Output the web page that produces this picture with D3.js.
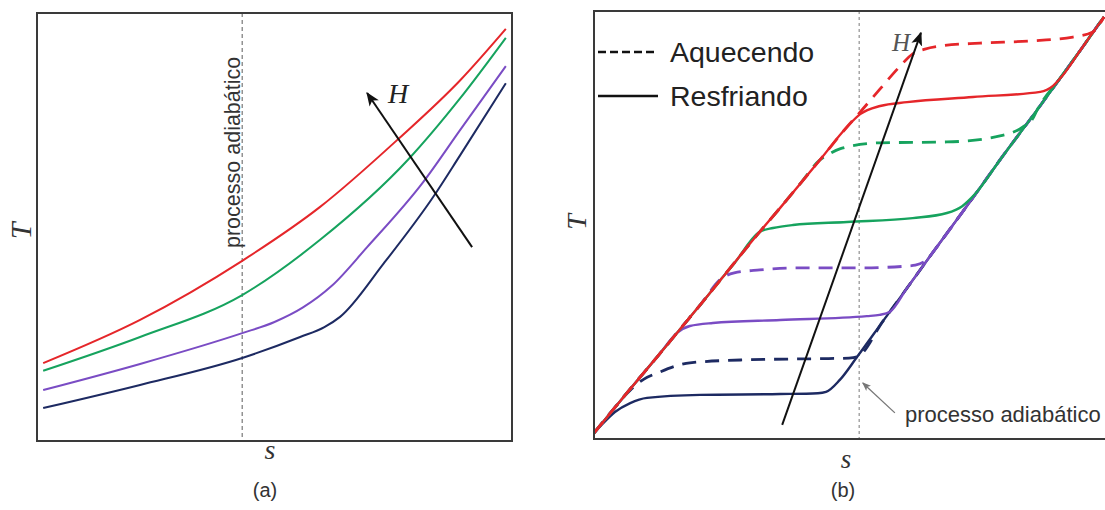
<!DOCTYPE html>
<html>
<head>
<meta charset="utf-8">
<script src="https://cdn.jsdelivr.net/npm/d3@7"></script>
<style>
  html, body { margin: 0; padding: 0; background: #fff; }
  svg { display: block; }
</style>
</head>
<body>
<svg id="chart" width="1105" height="510"></svg>
<script>
// ---------- Panel (a): T–s curves for increasing field H ----------
// points are [s, T] in arbitrary units (0–10)
const aNavy   = [[0.13,0.77],[2.17,1.31],[4.32,1.94],[5.54,2.43],[6.05,2.66],[6.38,2.90],[7.30,4.15],[8.34,5.70],[8.91,6.68],[9.87,8.36]];
const aPurple = [[0.13,1.19],[2.17,1.80],[4.32,2.52],[5.00,2.78],[5.60,3.12],[6.20,3.62],[6.95,4.53],[8.13,6.05],[8.91,7.27],[9.87,8.76]];
const aGreen  = [[0.13,1.64],[2.17,2.43],[4.32,3.41],[5.96,4.70],[7.81,6.57],[8.91,8.01],[9.87,9.42]];
const aRed    = [[0.13,1.82],[2.17,2.83],[4.32,4.21],[5.96,5.47],[7.58,7.03],[8.91,8.43],[9.87,9.63]];
const aAdiabaticS = 4.32;
const aArrowH = [[9.16,4.53],[6.95,8.13]];

// ---------- Panel (b): heating (Aquecendo) and cooling (Resfriando) ----------
const bNavyCool = [[0,0.14],[0.18,0.37],[0.41,0.63],[0.71,0.84],[1.04,0.96],[2.08,1.03],[3.65,1.05],[4.39,1.07],[4.55,1.10],[4.82,1.38],[5.16,1.92],[5.67,2.76],[6.14,3.53],[6.65,4.37],[7.18,5.23],[7.51,5.77],[7.96,6.52],[8.69,7.69],[9.14,8.43],[9.53,9.07],[9.86,9.63],[10,9.86]];
const bNavyHeat = [[0,0.14],[0.35,0.65],[0.71,1.14],[0.98,1.40],[1.24,1.54],[1.88,1.78],[3.0,1.85],[4.6,1.88],[5.0,1.89],[5.16,1.92],[5.67,2.76],[6.14,3.53],[6.65,4.37],[7.18,5.23],[7.51,5.77],[7.96,6.52],[8.69,7.69],[9.14,8.43],[9.53,9.07],[9.86,9.63],[10,9.86]];
const bPurpleCool = [[0,0.14],[0.35,0.65],[0.71,1.17],[1.24,1.92],[1.63,2.48],[1.88,2.64],[2.33,2.71],[3.65,2.78],[5.35,2.87],[5.6,2.90],[5.80,2.97],[6.14,3.53],[6.65,4.37],[7.18,5.23],[7.51,5.77],[7.96,6.52],[8.69,7.69],[9.14,8.43],[9.53,9.07],[9.86,9.63],[10,9.86]];
const bPurpleHeat = [[0,0.14],[0.35,0.65],[0.71,1.17],[1.24,1.92],[1.69,2.57],[2.08,3.13],[2.51,3.76],[2.75,3.88],[3.25,3.95],[4.04,4.0],[5.25,4.0],[6.14,4.04],[6.30,4.06],[6.55,4.22],[6.65,4.37],[7.18,5.23],[7.51,5.77],[7.96,6.52],[8.69,7.69],[9.14,8.43],[9.53,9.07],[9.86,9.63],[10,9.86]];
const bGreenCool = [[0,0.14],[0.35,0.65],[0.71,1.17],[1.24,1.92],[1.69,2.57],[2.08,3.13],[2.51,3.76],[2.73,4.07],[3.25,4.84],[3.51,4.93],[3.90,5.00],[4.96,5.07],[6.25,5.16],[6.92,5.28],[7.22,5.44],[7.47,5.72],[7.96,6.52],[8.69,7.69],[9.14,8.43],[9.53,9.07],[9.86,9.63],[10,9.86]];
const bGreenHeat = [[0,0.14],[0.35,0.65],[0.71,1.17],[1.24,1.92],[1.69,2.57],[2.08,3.13],[2.51,3.76],[3.25,4.84],[3.65,5.40],[4.04,5.96],[4.43,6.52],[4.61,6.66],[4.82,6.78],[5.61,6.92],[6.92,6.94],[7.96,7.08],[8.41,7.29],[8.60,7.48],[8.69,7.69],[9.14,8.43],[9.53,9.07],[9.86,9.63],[10,9.86]];
const bRedCool = [[0,0.14],[0.35,0.65],[0.71,1.17],[1.24,1.92],[1.69,2.57],[2.08,3.13],[2.51,3.76],[3.25,4.84],[3.65,5.40],[4.04,5.96],[4.43,6.52],[4.96,7.29],[5.22,7.59],[5.61,7.78],[6.14,7.87],[7.43,7.99],[8.75,8.11],[9.0,8.25],[9.18,8.48],[9.53,9.07],[9.86,9.63],[10,9.86]];
const bRedHeat = [[0,0.14],[0.35,0.65],[0.71,1.17],[1.24,1.92],[1.69,2.57],[2.08,3.13],[2.51,3.76],[3.25,4.84],[3.65,5.40],[4.04,5.96],[4.43,6.52],[4.96,7.29],[5.22,7.64],[5.61,8.18],[6.00,8.71],[6.25,9.00],[6.49,9.11],[6.78,9.18],[7.57,9.25],[8.55,9.30],[9.39,9.39],[9.78,9.51],[10,9.86]];
const bAdiabaticS = 5.20;
const bArrowH = [[3.69,0.33],[6.41,9.49]];
const bNoteArrow = [[5.90,0.61],[5.27,1.31]];

const legendLabels = ["Aquecendo", "Resfriando"];
const adiabaticLabel = "processo adiabático";

const colors = { navy: "#1d2a62", purple: "#7a4cc4", green: "#16a35e", red: "#e5262a" };

const svg = d3.select("#chart");
const defs = svg.append("defs");
function marker(id, color, size) {
  defs.append("marker")
    .attr("id", id).attr("viewBox", "0 0 10 10").attr("refX", 9).attr("refY", 5)
    .attr("markerWidth", size).attr("markerHeight", size).attr("orient", "auto")
    .attr("markerUnits", "userSpaceOnUse")
    .append("path").attr("d", "M0,1 L10,5 L0,9 L2.5,5 Z").attr("fill", color);
}
marker("headBlack", "#111", 14);
marker("headGray", "#777", 9);

// ---------- Panel (a) ----------
const xA = d3.scaleLinear().domain([0, 10]).range([37, 512]);
const yA = d3.scaleLinear().domain([0, 10]).range([441, 13]);
const lineA = d3.line().x(d => xA(d[0])).y(d => yA(d[1])).curve(d3.curveMonotoneX);
const gA = svg.append("g");

gA.append("line")
  .attr("x1", xA(aAdiabaticS)).attr("x2", xA(aAdiabaticS))
  .attr("y1", yA(10)).attr("y2", yA(0))
  .attr("stroke", "#777").attr("stroke-width", 1.2).attr("stroke-dasharray", "4,3");

[[aNavy, colors.navy], [aPurple, colors.purple], [aGreen, colors.green], [aRed, colors.red]]
  .forEach(([pts, c]) => {
    gA.append("path").attr("d", lineA(pts)).attr("fill", "none")
      .attr("stroke", c).attr("stroke-width", 2);
  });

gA.append("line")
  .attr("x1", xA(aArrowH[0][0])).attr("y1", yA(aArrowH[0][1]))
  .attr("x2", xA(aArrowH[1][0])).attr("y2", yA(aArrowH[1][1]))
  .attr("stroke", "#111").attr("stroke-width", 2).attr("marker-end", "url(#headBlack)");

gA.append("text").attr("x", 398).attr("y", 103).attr("text-anchor", "middle")
  .attr("font-family", "Liberation Serif, Times New Roman, serif").attr("font-style", "italic")
  .attr("font-size", 28).attr("fill", "#222").text("H");

gA.append("text").attr("transform", "translate(240,248) rotate(-90)")
  .attr("font-family", "Liberation Sans, Arial, sans-serif").attr("font-size", 21.5)
  .attr("fill", "#333").text(adiabaticLabel);

gA.append("rect").attr("x", 37).attr("y", 13).attr("width", 475).attr("height", 428)
  .attr("fill", "none").attr("stroke", "#3a3a3a").attr("stroke-width", 2);

gA.append("text").attr("transform", "translate(31,231) rotate(-90)").attr("text-anchor", "middle")
  .attr("font-family", "Liberation Serif, Times New Roman, serif").attr("font-style", "italic")
  .attr("font-size", 30).attr("fill", "#333").text("T");
gA.append("text").attr("x", 270).attr("y", 459).attr("text-anchor", "middle")
  .attr("font-family", "Liberation Serif, Times New Roman, serif").attr("font-style", "italic")
  .attr("font-size", 28).attr("fill", "#333").text("s");
gA.append("text").attr("x", 265).attr("y", 497).attr("text-anchor", "middle")
  .attr("font-family", "Liberation Sans, Arial, sans-serif").attr("font-size", 20)
  .attr("fill", "#333").text("(a)");

// ---------- Panel (b) ----------
const xB = d3.scaleLinear().domain([0, 10]).range([594, 1104]);
const yB = d3.scaleLinear().domain([0, 10]).range([439, 11]);
const lineB = d3.line().x(d => xB(d[0])).y(d => yB(d[1])).curve(d3.curveMonotoneX);
const gB = svg.append("g");

gB.append("line")
  .attr("x1", xB(bAdiabaticS)).attr("x2", xB(bAdiabaticS))
  .attr("y1", yB(10)).attr("y2", yB(0))
  .attr("stroke", "#999").attr("stroke-width", 1.3).attr("stroke-dasharray", "3,3");

const series = [
  [bNavyCool, bNavyHeat, colors.navy],
  [bPurpleCool, bPurpleHeat, colors.purple],
  [bGreenCool, bGreenHeat, colors.green],
  [bRedCool, bRedHeat, colors.red]
];
series.forEach(([cool, heat, c]) => {
  gB.append("path").attr("d", lineB(cool)).attr("fill", "none")
    .attr("stroke", c).attr("stroke-width", 2.4);
  gB.append("path").attr("d", lineB(heat)).attr("fill", "none")
    .attr("stroke", c).attr("stroke-width", 2.8).attr("stroke-dasharray", "14,9");
});

gB.append("line")
  .attr("x1", xB(bArrowH[0][0])).attr("y1", yB(bArrowH[0][1]))
  .attr("x2", xB(bArrowH[1][0])).attr("y2", yB(bArrowH[1][1]))
  .attr("stroke", "#111").attr("stroke-width", 2).attr("marker-end", "url(#headBlack)");

gB.append("text").attr("x", 901).attr("y", 51).attr("text-anchor", "middle")
  .attr("font-family", "Liberation Serif, Times New Roman, serif").attr("font-style", "italic")
  .attr("font-size", 25).attr("fill", "#555").text("H");

gB.append("line")
  .attr("x1", xB(bNoteArrow[0][0])).attr("y1", yB(bNoteArrow[0][1]))
  .attr("x2", xB(bNoteArrow[1][0])).attr("y2", yB(bNoteArrow[1][1]))
  .attr("stroke", "#777").attr("stroke-width", 1.3).attr("marker-end", "url(#headGray)");
gB.append("text").attr("x", 905).attr("y", 422)
  .attr("font-family", "Liberation Sans, Arial, sans-serif").attr("font-size", 22)
  .attr("fill", "#333").text(adiabaticLabel);

// legend
const legend = gB.append("g");
legendLabels.forEach((lab, i) => {
  const yy = 52 + i * 44;
  legend.append("line").attr("x1", 598).attr("x2", 658).attr("y1", yy).attr("y2", yy)
    .attr("stroke", "#111").attr("stroke-width", 2.5)
    .attr("stroke-dasharray", i === 0 ? "8,4" : null);
  legend.append("text").attr("x", 670).attr("y", yy + 10)
    .attr("font-family", "Liberation Sans, Arial, sans-serif").attr("font-size", 28.5)
    .attr("fill", "#222").text(lab);
});

gB.append("rect").attr("x", 594).attr("y", 11).attr("width", 512).attr("height", 428)
  .attr("fill", "none").attr("stroke", "#3a3a3a").attr("stroke-width", 2);

gB.append("text").attr("transform", "translate(586,222) rotate(-90)").attr("text-anchor", "middle")
  .attr("font-family", "Liberation Serif, Times New Roman, serif").attr("font-style", "italic")
  .attr("font-size", 28).attr("fill", "#333").text("T");
gB.append("text").attr("x", 846).attr("y", 468).attr("text-anchor", "middle")
  .attr("font-family", "Liberation Serif, Times New Roman, serif").attr("font-style", "italic")
  .attr("font-size", 27).attr("fill", "#333").text("s");
gB.append("text").attr("x", 843).attr("y", 497).attr("text-anchor", "middle")
  .attr("font-family", "Liberation Sans, Arial, sans-serif").attr("font-size", 20)
  .attr("fill", "#333").text("(b)");
</script>
</body>
</html>
